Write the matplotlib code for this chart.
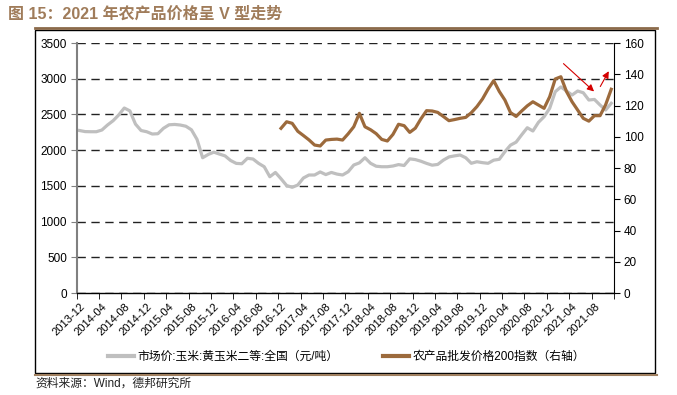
import numpy as np
import matplotlib
matplotlib.use("Agg")
import matplotlib.pyplot as plt
from matplotlib.lines import Line2D
from matplotlib.patches import Rectangle

plt.rcParams['font.family'] = ['Liberation Sans', 'Noto Sans CJK SC', 'DejaVu Sans']

# 月度数据 2013-12 ~ 2021-11
months = []
y, m = 2013, 12
for _ in range(96):
    months.append(f"{y}-{m:02d}")
    m += 1
    if m > 12:
        y, m = y + 1, 1

# 市场价:玉米:黄玉米二等:全国 (元/吨)
corn_price = [
    2275, 2260, 2258, 2258, 2282, 2352, 2412, 2492, 2590, 2550,
    2365, 2275, 2258, 2226, 2230, 2306, 2355, 2360, 2352, 2335,
    2285, 2150, 1894, 1940, 1972, 1945, 1920, 1855, 1815, 1810,
    1886, 1876, 1815, 1768, 1628, 1688, 1600, 1505, 1480, 1512,
    1610, 1652, 1652, 1695, 1658, 1688, 1665, 1652, 1698, 1792,
    1822, 1894, 1816, 1775, 1768, 1768, 1778, 1798, 1785, 1878,
    1868, 1845, 1815, 1790, 1800, 1860, 1905, 1920, 1932, 1894,
    1816, 1838, 1825, 1816, 1860, 1872, 1978, 2070, 2112, 2215,
    2314, 2268, 2390, 2468, 2586, 2818, 2885, 2828, 2772, 2828,
    2804, 2702, 2710, 2632, 2562, 2656,
]

# 农产品批发价格200指数 (右轴), 2016-12 起
agri_index = [np.nan] * 36 + [
    105.4, 109.6, 108.6, 103.5, 100.8, 98.0, 94.7, 94.1, 97.9, 98.3,
    98.5, 97.9, 101.9, 106.4, 115.0, 106.4, 104.5, 102.0, 98.3, 97.3,
    101.5, 108.0, 107.1, 102.8, 105.5, 111.5, 116.7, 116.5, 115.6, 113.0,
    110.3, 111.0, 111.8, 112.4, 115.4, 119.3, 124.2, 130.5, 135.9, 129.0,
    123.5, 115.5, 113.0, 116.5, 119.8, 122.4, 120.3, 118.2, 125.6, 137.0,
    138.4, 129.0, 122.4, 117.1, 111.8, 110.0, 113.5, 113.5, 120.5, 130.4,
]

x = np.arange(len(months))

fig = plt.figure(figsize=(6.77, 3.95), dpi=100)
ax = fig.add_axes([0.1133, 0.2582, 0.7937, 0.6329])
ax2 = ax.twinx()

gray = '#bfbfbf'
brown = '#9c6a3c'

l1, = ax.plot(x, corn_price, color=gray, lw=2.3, solid_joinstyle='round')
l2, = ax2.plot(x, agri_index, color=brown, lw=2.3, solid_joinstyle='round')

ax.set_xlim(-0.5, 95.5)
ax.set_ylim(0, 3500)
ax2.set_ylim(0, 160)

ax.set_yticks(np.arange(0, 3501, 500))
ax2.set_yticks(np.arange(0, 161, 20))
ax.yaxis.grid(True, color='#222222', linestyle=(0, (6, 4)), lw=1)
ax.set_axisbelow(True)

# 刻度线在类别边界, 标签在类别中心
ax.set_xticks(np.arange(-0.5, 96, 4), minor=True)
ax.set_xticks(x[::4])
ax.set_xticklabels(months[::4], rotation=45, ha='right', rotation_mode='anchor', fontsize=8)
ax.tick_params(axis='x', which='major', length=0, pad=6)
ax.tick_params(axis='x', which='minor', length=4, direction='out', color='black')
ax.tick_params(axis='y', length=4, labelsize=8.5, pad=3, color='#808080')
ax2.tick_params(axis='y', length=4, labelsize=8.5, pad=3, color='black')

for s in ['top']:
    ax.spines[s].set_visible(False)
    ax2.spines[s].set_visible(False)
ax2.spines['left'].set_visible(False)
ax.spines['right'].set_visible(False)
ax.spines['left'].set_color('#808080')
ax.spines['left'].set_linewidth(1.5)
ax2.spines['right'].set_color('black')
ax2.spines['right'].set_linewidth(0.8)
ax2.spines['bottom'].set_visible(False)
ax.spines['bottom'].set_color('black')
ax.spines['bottom'].set_linewidth(1)

# 红色箭头
arrow_kw = dict(arrowstyle='-|>', color='#d40000', lw=0.8, mutation_scale=10)
ax2.annotate('', xy=(92.3, 127.8), xytext=(86.1, 148), arrowprops=arrow_kw)
ax2.annotate('', xy=(94.8, 143.5), xytext=(92.8, 130.6), arrowprops=arrow_kw)

leg = fig.legend([l1, l2], ['市场价:玉米:黄玉米二等:全国（元/吨）', '农产品批发价格200指数（右轴）'],
                 loc='center', bbox_to_anchor=(0.512, 0.096), ncol=2, frameon=False,
                 fontsize=8.5, handlelength=2.2, columnspacing=3.8, handletextpad=0.3)
for h in leg.legend_handles:
    h.set_linewidth(3)

# 标题与外框
fig.text(0.012, 0.965, '图 15：2021 年农产品价格呈 V 型走势', fontsize=11.5, fontweight='bold',
         color='#a07c5a', va='center', ha='left')
fig.add_artist(Line2D([0.052, 0.970], [0.929, 0.929], color='#8b6a4a', lw=2))
fig.add_artist(Rectangle((0.052, 0.056), 0.915, 0.867, fill=False, edgecolor='black', lw=1))
fig.add_artist(Line2D([0.052, 0.970], [0.050, 0.050], color='#a08060', lw=1.5))
fig.text(0.052, 0.013, '资料来源：Wind，德邦研究所', fontsize=8.5, color='#222222', va='bottom', ha='left')

fig.savefig('out.png', dpi=100)
